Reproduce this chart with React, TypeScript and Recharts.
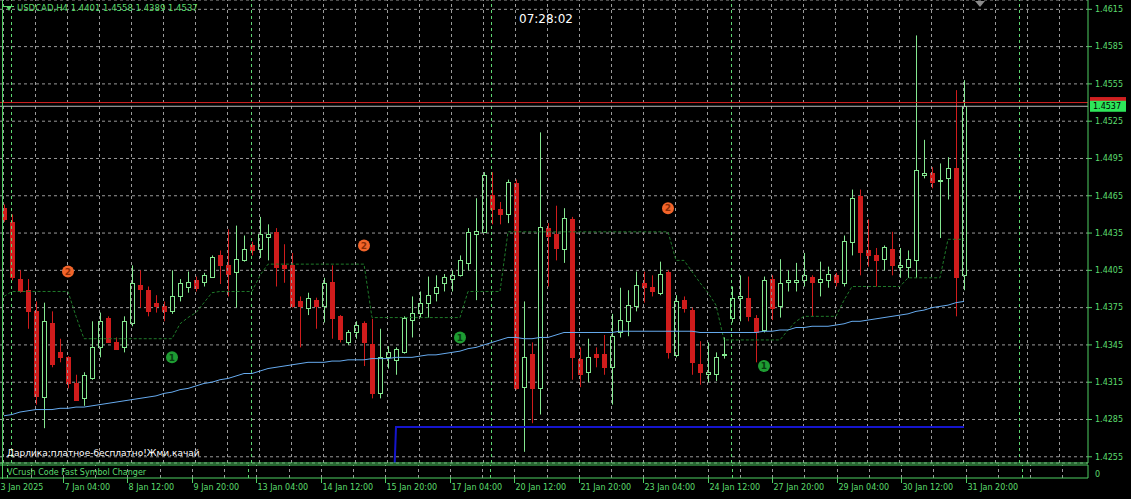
import React from "react";
import {
  ComposedChart,
  Bar,
  Line,
  XAxis,
  YAxis,
  CartesianGrid,
  ReferenceLine,
  ReferenceDot,
} from "recharts";

// USDCAD H4, bars from 3 Jan 2025 20:00 to 31 Jan 2025 20:00
const opens = [
  1.4455, 1.4444, 1.4398, 1.4389, 1.4372, 1.4303, 1.4363, 1.4339, 1.4335, 1.4314,
  1.4302, 1.4318, 1.4343, 1.4367, 1.4347, 1.4343, 1.4363, 1.4393, 1.4389, 1.4379,
  1.4376, 1.4372, 1.4384, 1.4392, 1.4397, 1.4396, 1.44, 1.4417, 1.4409, 1.4404,
  1.4413, 1.4425, 1.4422, 1.4432, 1.4436, 1.4409, 1.4409, 1.438, 1.4375, 1.4381,
  1.4376, 1.4396, 1.4368, 1.4347, 1.4355, 1.4363, 1.4346, 1.4306, 1.4335, 1.4333,
  1.4339, 1.4365, 1.4371, 1.4379, 1.4387, 1.4395, 1.4398, 1.4401, 1.4411, 1.4434,
  1.4436, 1.4466, 1.4454, 1.445, 1.4475, 1.4311, 1.4338, 1.431, 1.4439, 1.4434,
  1.4422, 1.4446, 1.4334, 1.4323, 1.4338, 1.4338, 1.4327, 1.4355, 1.4364, 1.4376,
  1.4395, 1.4392, 1.4387, 1.4404, 1.4337, 1.4381, 1.4373, 1.433, 1.4322, 1.4322,
  1.4337, 1.4367, 1.4383, 1.4383, 1.4367, 1.4357, 1.4398, 1.4376, 1.4396, 1.4396,
  1.4397, 1.44, 1.4396, 1.4397, 1.4401, 1.4395, 1.4428, 1.4465, 1.4421, 1.4417,
  1.4414, 1.4422, 1.4408, 1.4408, 1.4413, 1.4482, 1.4483, 1.4477, 1.4479, 1.4487,
  1.4401,
];
const highs = [
  1.4458, 1.445, 1.4405, 1.4398, 1.438, 1.4379, 1.4372, 1.435, 1.4336, 1.4321,
  1.4323, 1.4364, 1.4371, 1.4368, 1.4351, 1.4368, 1.4409, 1.4405, 1.4392, 1.4385,
  1.438, 1.4405, 1.4398, 1.4404, 1.44, 1.4403, 1.4417, 1.4421, 1.4438, 1.4441,
  1.4433, 1.4428, 1.4448, 1.4442, 1.4439, 1.4426, 1.4419, 1.4384, 1.4387, 1.4383,
  1.4399, 1.4409, 1.4369, 1.4357, 1.4364, 1.4364, 1.4366, 1.4358, 1.4344, 1.4343,
  1.4368, 1.4384, 1.4388, 1.44, 1.4401, 1.4402, 1.4405, 1.4417, 1.4439, 1.4463,
  1.4484, 1.4484, 1.446, 1.4478, 1.4478, 1.438, 1.4347, 1.4516, 1.4443, 1.4457,
  1.4455, 1.4448, 1.4343, 1.435, 1.4343, 1.4353, 1.437, 1.4391, 1.4389, 1.4404,
  1.4404, 1.4401, 1.4412, 1.4405, 1.4385, 1.4384, 1.4375, 1.4348, 1.4347, 1.4339,
  1.4351, 1.4392, 1.4401, 1.44, 1.4369, 1.44, 1.4401, 1.4414, 1.4405, 1.4411,
  1.4419, 1.4401, 1.4412, 1.4408, 1.4403, 1.4433, 1.447, 1.447, 1.4446, 1.4423,
  1.4425, 1.4436, 1.4423, 1.4421, 1.4594, 1.451, 1.4488, 1.4491, 1.4496, 1.455,
  1.4558,
];
const lows = [
  1.4444, 1.4397, 1.4387, 1.4358, 1.4297, 1.4278, 1.4327, 1.4331, 1.431, 1.43,
  1.4296, 1.4317, 1.4335, 1.4347, 1.4341, 1.4339, 1.436, 1.4375, 1.4368, 1.4371,
  1.4364, 1.437, 1.438, 1.4387, 1.4388, 1.4392, 1.4399, 1.4394, 1.4384, 1.4375,
  1.4412, 1.4417, 1.4415, 1.4413, 1.4392, 1.4395, 1.4375, 1.4343, 1.4369, 1.4358,
  1.4363, 1.435, 1.4347, 1.4345, 1.435, 1.4328, 1.4302, 1.4302, 1.4326, 1.4321,
  1.4338, 1.4351, 1.4367, 1.4367, 1.438, 1.4388, 1.4388, 1.44, 1.4405, 1.4381,
  1.4435, 1.4442, 1.4442, 1.4443, 1.4309, 1.4259, 1.4282, 1.4289, 1.4392, 1.4413,
  1.4411, 1.4317, 1.4311, 1.4315, 1.4327, 1.4321, 1.4297, 1.4351, 1.4352, 1.4372,
  1.4379, 1.4384, 1.4385, 1.4334, 1.4335, 1.4371, 1.4321, 1.4313, 1.4315, 1.4316,
  1.4334, 1.4363, 1.4364, 1.4364, 1.4331, 1.4355, 1.4365, 1.4367, 1.4388, 1.4388,
  1.4392, 1.4368, 1.4384, 1.4391, 1.4392, 1.4392, 1.4417, 1.4401, 1.4408, 1.4392,
  1.4405, 1.4401, 1.4399, 1.4399, 1.4399, 1.4479, 1.4471, 1.4431, 1.4462, 1.4368,
  1.4389,
];
const closes = [
  1.4446, 1.44, 1.4388, 1.4372, 1.4304, 1.4364, 1.433, 1.4335, 1.4314, 1.4301,
  1.4321, 1.4343, 1.4364, 1.4347, 1.4342, 1.4364, 1.4395, 1.439, 1.4372, 1.4376,
  1.4372, 1.4384, 1.4395, 1.4396, 1.4391, 1.4401, 1.4416, 1.4409, 1.4402, 1.4414,
  1.4422, 1.4421, 1.4434, 1.4434, 1.4408, 1.4407, 1.4376, 1.4376, 1.4383, 1.4376,
  1.4395, 1.4367, 1.435, 1.4355, 1.4361, 1.4347, 1.4306, 1.4335, 1.4339, 1.4342,
  1.4367, 1.4371, 1.4379, 1.4385, 1.4392, 1.44, 1.4401, 1.4413, 1.4436, 1.4437,
  1.4482, 1.4454, 1.445, 1.4476, 1.431, 1.4335, 1.431, 1.444, 1.4433, 1.4423,
  1.4447, 1.4335, 1.4322, 1.4335, 1.4335, 1.4327, 1.4352, 1.4365, 1.4377, 1.4393,
  1.4392, 1.4388, 1.4402, 1.4339, 1.438, 1.4375, 1.4331, 1.4323, 1.4323, 1.4335,
  1.4338, 1.4383, 1.4384, 1.4368, 1.4355, 1.4397, 1.4375, 1.4395, 1.4397, 1.4397,
  1.4401, 1.4396, 1.4398, 1.4402, 1.4396, 1.4429, 1.4463, 1.442, 1.4417, 1.4413,
  1.4424, 1.4409, 1.4409, 1.4414, 1.4486, 1.4483, 1.4476, 1.4478, 1.4487, 1.44,
  1.4537,
];

// light blue moving average
const maValues = [
  1.4288, 1.4289, 1.4291, 1.4292, 1.4293, 1.4293, 1.4293, 1.4294, 1.4294, 1.4295,
  1.4295, 1.4296, 1.4297, 1.4298, 1.4299, 1.43, 1.4301, 1.4302, 1.4303, 1.4304,
  1.4306, 1.4307, 1.4309, 1.431, 1.4312, 1.4314, 1.4315, 1.4317, 1.4318, 1.432,
  1.4322, 1.4322, 1.4324, 1.4326, 1.4327, 1.4328, 1.4329, 1.433, 1.4331, 1.4331,
  1.4331, 1.4332, 1.4332, 1.4333, 1.4333, 1.4333, 1.4334, 1.4334, 1.4334, 1.4335,
  1.4335, 1.4335, 1.4336, 1.4337, 1.4337, 1.4338, 1.4339, 1.434, 1.4342, 1.4343,
  1.4345, 1.4347, 1.4349, 1.4351, 1.4351, 1.435, 1.435, 1.4351, 1.4351, 1.4353,
  1.4355, 1.4355, 1.4355, 1.4355, 1.4355, 1.4355, 1.4355, 1.4356, 1.4356, 1.4356,
  1.4356, 1.4356, 1.4356, 1.4356, 1.4356, 1.4356, 1.4356, 1.4355, 1.4355, 1.4355,
  1.4355, 1.4355, 1.4355, 1.4355, 1.4355, 1.4356, 1.4356, 1.4357, 1.4357, 1.4359,
  1.4359, 1.436, 1.436, 1.436, 1.4361, 1.4362, 1.4364, 1.4364, 1.4365, 1.4366,
  1.4367, 1.4368, 1.4369, 1.437, 1.4372, 1.4373, 1.4375, 1.4376, 1.4377, 1.4379,
  1.438,
];

// dark green dotted step line
const levelValues = [
  1.4384, 1.4388, 1.4388, 1.4388, 1.4388, 1.4388, 1.4388, 1.4388, 1.4388, 1.4368,
  1.435, 1.435, 1.435, 1.435, 1.435, 1.435, 1.435, 1.435, 1.435, 1.435,
  1.435, 1.435, 1.4362, 1.4367, 1.4371, 1.4379, 1.4387, 1.4388, 1.4388, 1.4388,
  1.4388, 1.4388, 1.4401, 1.441, 1.441, 1.441, 1.441, 1.441, 1.441, 1.441,
  1.441, 1.441, 1.441, 1.441, 1.441, 1.441, 1.4367, 1.4367, 1.4367, 1.4367,
  1.4367, 1.4367, 1.4367, 1.4367, 1.4367, 1.4367, 1.4367, 1.4367, 1.4388, 1.4388,
  1.4388, 1.4388, 1.4388, 1.4436, 1.4436, 1.4436, 1.4436, 1.4436, 1.4436, 1.4436,
  1.4436, 1.4436, 1.4436, 1.4436, 1.4436, 1.4436, 1.4436, 1.4436, 1.4436, 1.4436,
  1.4436, 1.4436, 1.4436, 1.4436, 1.4413, 1.4413, 1.4404, 1.4395, 1.4387, 1.4377,
  1.4349, 1.4349, 1.4349, 1.4349, 1.4349, 1.4349, 1.4349, 1.4349, 1.4357, 1.4364,
  1.4368, 1.4368, 1.4368, 1.4368, 1.4368, 1.4381, 1.4392, 1.4392, 1.4392, 1.4392,
  1.4392, 1.4392, 1.4392, 1.4399, 1.4399, 1.4399, 1.4399, 1.4399, 1.443, 1.443,
  1.443,
];

// dark blue indicator, below the window before bar 49
const blueValues = [
  null, null, null, null, null, null, null, null, null, null,
  null, null, null, null, null, null, null, null, null, null,
  null, null, null, null, null, null, null, null, null, null,
  null, null, null, null, null, null, null, null, null, null,
  null, null, null, null, null, null, null, null, 1.41, 1.4279,
  1.4279, 1.4279, 1.4279, 1.4279, 1.4279, 1.4279, 1.4279, 1.4279, 1.4279, 1.4279,
  1.4279, 1.4279, 1.4279, 1.4279, 1.4279, 1.4279, 1.4279, 1.4279, 1.4279, 1.4279,
  1.4279, 1.4279, 1.4279, 1.4279, 1.4279, 1.4279, 1.4279, 1.4279, 1.4279, 1.4279,
  1.4279, 1.4279, 1.4279, 1.4279, 1.4279, 1.4279, 1.4279, 1.4279, 1.4279, 1.4279,
  1.4279, 1.4279, 1.4279, 1.4279, 1.4279, 1.4279, 1.4279, 1.4279, 1.4279, 1.4279,
  1.4279, 1.4279, 1.4279, 1.4279, 1.4279, 1.4279, 1.4279, 1.4279, 1.4279, 1.4279,
  1.4279, 1.4279, 1.4279, 1.4279, 1.4279, 1.4279, 1.4279, 1.4279, 1.4279, 1.4279,
  1.4279,
];

const signalOne = [
  { bar: 21, price: 1.4335 },
  { bar: 57, price: 1.4351 },
  { bar: 95, price: 1.4328 },
];
const signalTwo = [
  { bar: 8, price: 1.4404 },
  { bar: 45, price: 1.4425 },
  { bar: 83, price: 1.4455 },
];

const priceTicks = [
  1.4255, 1.4285, 1.4315, 1.4345, 1.4375, 1.4405, 1.4435, 1.4465, 1.4495, 1.4525,
  1.4555, 1.4585, 1.4615,
];
const timeTickBars = [0, 8, 16, 24, 32, 40, 48, 56, 64, 72, 80, 88, 96, 104, 112, 120];
const timeTickLabels = [
  "3 Jan 2025", "7 Jan 04:00", "8 Jan 12:00", "9 Jan 20:00", "13 Jan 04:00",
  "14 Jan 12:00", "15 Jan 20:00", "17 Jan 04:00", "20 Jan 12:00", "21 Jan 20:00",
  "23 Jan 04:00", "24 Jan 12:00", "27 Jan 20:00", "29 Jan 04:00", "30 Jan 12:00",
  "31 Jan 20:00",
];
const gridBars = [
  0, 4, 8, 12, 16, 20, 24, 28, 32, 36, 40, 44, 48, 52, 56, 60, 64, 68, 72, 76,
  80, 84, 88, 92, 96, 100, 104, 108, 112, 116, 120, 124, 128, 132,
];
const separatorBars = [1, 31, 61, 91, 127];
const askPrice = 1.454;
const bidPrice = 1.4537;
const emptyBarsRight = 15;

const BULL = "#84e890";
const BEAR = "#d01c1c";
const TEXT = "#5cdc6e";
const FRAME = "#4fcf62";
const GRID = "#9a9a9a";
const SEP = "#5fd873";
const FONT = "DejaVu Sans";

const rows = Array.from({ length: opens.length + emptyBarsRight }, (_, i) => ({
  i,
  open: opens[i],
  high: highs[i],
  low: lows[i],
  close: closes[i],
  ma: maValues[i] ?? null,
  level: levelValues[i] ?? null,
  blue: blueValues[i] ?? null,
}));

const last = opens.length - 1;
const fmt = (v: number) => v.toFixed(4);

function Candle(props: any) {
  const { x, y, width, height, payload } = props;
  if (!payload || payload.open == null || !Number.isFinite(y)) return <g />;
  const { open, high, low, close } = payload;
  const k = high > low ? height / (high - low) : 0;
  const yOpen = y + (high - open) * k;
  const yClose = y + (high - close) * k;
  const up = close >= open;
  const col = up ? BULL : BEAR;
  const px = Math.floor(x + width / 2 - 0.25);
  const top = Math.round(Math.min(yOpen, yClose));
  const bot = Math.round(Math.max(yOpen, yClose));
  return (
    <g>
      <line x1={px + 0.5} x2={px + 0.5} y1={y} y2={y + height} stroke={col} />
      {bot - top < 1 ? (
        <line x1={px - 2} x2={px + 3} y1={top + 0.5} y2={top + 0.5} stroke={col} />
      ) : up ? (
        <rect x={px - 1.5} y={top + 0.5} width={4} height={bot - top} fill="#000" stroke={col} />
      ) : (
        <rect x={px - 2} y={top} width={5} height={bot - top + 1} fill={col} />
      )}
    </g>
  );
}

// vertical reference line snapped to the candle's pixel column
function CrispV(props: any) {
  const { x1, y1, y2, stroke, strokeDasharray } = props;
  if (!Number.isFinite(x1)) return <g />;
  const x = Math.floor(x1) - 0.5;
  return (
    <line x1={x} x2={x} y1={y1} y2={y2} stroke={stroke} strokeDasharray={strokeDasharray} />
  );
}

function SignalMark(props: any) {
  const { cx, cy, fill, ink, digit } = props;
  if (cx == null || cy == null) return <g />;
  return (
    <g>
      <circle cx={cx} cy={cy} r={6} fill={fill} />
      <text
        x={cx}
        y={cy}
        dy="0.36em"
        textAnchor="middle"
        fontSize={9}
        fontWeight="bold"
        fill={ink}
        fontFamily={FONT}
      >
        {digit}
      </text>
    </g>
  );
}

function PriceTag(props: any) {
  const { viewBox, bg, fg, text } = props;
  if (!viewBox) return <g />;
  const x = viewBox.x + viewBox.width + 2;
  const y = viewBox.y;
  return (
    <g>
      <rect x={x} y={y - 5.5} width={36} height={11} fill={bg} />
      {text ? (
        <text x={x + 3} y={y} dy="0.36em" fontSize={8} fill={fg} fontFamily={FONT}>
          {text}
        </text>
      ) : null}
    </g>
  );
}

function TimeTick(props: any) {
  const { x, y, payload } = props;
  const idx = timeTickBars.indexOf(payload.value);
  if (idx < 0) return <g />;
  const tx = Math.floor(x) - 0.5;
  return (
    <g>
      <line x1={tx} x2={tx} y1={y - 6} y2={y - 1} stroke={FRAME} />
      <text x={tx + 1} y={y} dy="0.8em" fontSize={8} fill={TEXT} fontFamily={FONT}>
        {timeTickLabels[idx]}
      </text>
    </g>
  );
}

function verticals() {
  return [
    ...gridBars.map((b) => (
      <ReferenceLine
        key={"g" + b}
        x={b}
        stroke={GRID}
        strokeDasharray="3 3"
        shape={(p: any) => <CrispV {...p} />}
      />
    )),
    ...separatorBars.map((b) => (
      <ReferenceLine
        key={"s" + b}
        x={b}
        stroke={SEP}
        strokeDasharray="3 3"
        shape={(p: any) => <CrispV {...p} />}
      />
    )),
  ];
}

export default function App() {
  return (
    <div
      style={{
        position: "absolute",
        left: 0,
        top: 0,
        width: 1131,
        height: 499,
        background: "#000",
        overflow: "hidden",
        fontFamily: FONT,
      }}
    >
      <div style={{ position: "absolute", left: 0, top: 0 }}>
        <ComposedChart
          width={1131}
          height={464}
          data={rows}
          margin={{ top: 0, right: 0, bottom: 0, left: 0 }}
        >
          <CartesianGrid stroke={GRID} strokeDasharray="3 3" vertical={false} />
          {verticals()}
          <XAxis
            dataKey="i"
            type="category"
            ticks={gridBars}
            interval={0}
            height={1}
            tick={false}
            tickLine={false}
            axisLine={{ stroke: FRAME }}
          />
          <YAxis
            orientation="right"
            width={43}
            domain={[1.425, 1.46225]}
            allowDataOverflow
            ticks={priceTicks}
            interval={0}
            tickSize={4}
            tickMargin={3}
            axisLine={{ stroke: FRAME }}
            tickLine={{ stroke: FRAME }}
            tick={{ fill: TEXT, fontSize: 8, fontFamily: FONT }}
            tickFormatter={(v: number) => v.toFixed(4)}
          />
          <Bar
            dataKey={(d: any) => (d.open == null ? null : [d.low, d.high])}
            barSize={5}
            shape={(p: any) => <Candle {...p} />}
            isAnimationActive={false}
          />
          <Line
            dataKey="level"
            stroke="#1f7a2a"
            strokeDasharray="3 2"
            dot={false}
            activeDot={false}
            isAnimationActive={false}
          />
          <Line
            dataKey="ma"
            stroke="#66aaee"
            dot={false}
            activeDot={false}
            isAnimationActive={false}
          />
          <Line
            dataKey="blue"
            stroke="#1515cc"
            strokeWidth={2}
            dot={false}
            activeDot={false}
            isAnimationActive={false}
          />
          <ReferenceLine
            y={askPrice}
            stroke="#d02020"
            label={<PriceTag bg="#d02020" fg="#000" text="" />}
          />
          <ReferenceLine
            y={bidPrice}
            stroke="#b8b8b8"
            label={<PriceTag bg="#2ee65a" fg="#000" text={fmt(bidPrice)} />}
          />
          {signalTwo.map((s) => (
            <ReferenceDot
              key={"two" + s.bar}
              x={s.bar}
              y={s.price}
              r={6}
              shape={(p: any) => <SignalMark {...p} fill="#f2642a" ink="#8a2c06" digit="2" />}
            />
          ))}
          {signalOne.map((s) => (
            <ReferenceDot
              key={"one" + s.bar}
              x={s.bar}
              y={s.price}
              r={6}
              shape={(p: any) => <SignalMark {...p} fill="#1e9c32" ink="#073d10" digit="1" />}
            />
          ))}
        </ComposedChart>
      </div>

      <div style={{ position: "absolute", left: 0, top: 463 }}>
        <ComposedChart
          width={1131}
          height={36}
          data={rows}
          margin={{ top: 2, right: 0, bottom: 0, left: 0 }}
        >
          {verticals()}
          <XAxis
            dataKey="i"
            type="category"
            ticks={gridBars}
            interval={0}
            height={21}
            tickSize={4}
            tickMargin={2}
            tickLine={false}
            axisLine={{ stroke: FRAME }}
            tick={<TimeTick />}
          />
          <YAxis
            orientation="right"
            width={43}
            domain={[-0.45, 1]}
            allowDataOverflow
            ticks={[0]}
            interval={0}
            tickSize={4}
            tickMargin={3}
            axisLine={{ stroke: FRAME }}
            tickLine={false}
            tick={{ fill: TEXT, fontSize: 8, fontFamily: FONT }}
          />
          <Line
            dataKey="sub"
            stroke="none"
            dot={false}
            activeDot={false}
            isAnimationActive={false}
          />
          <ReferenceLine y={1} stroke={FRAME} />
        </ComposedChart>
      </div>

      {/* window frame on the left */}
      <div
        style={{
          position: "absolute",
          left: 2,
          top: 0,
          width: 1,
          height: 479,
          background: FRAME,
        }}
      />

      {/* header */}
      <svg style={{ position: "absolute", left: 3, top: 5 }} width={12} height={8}>
        <line x1={0} x2={11} y1={1.5} y2={1.5} stroke={TEXT} />
        <polygon points="3,1 9,1 6,6" fill={TEXT} />
      </svg>
      <div
        style={{
          position: "absolute",
          left: 17,
          top: 3,
          fontSize: 8.5,
          color: TEXT,
          whiteSpace: "nowrap",
        }}
      >
        {`USDCAD,H4 ${fmt(opens[last])} ${fmt(highs[last])} ${fmt(lows[last])} ${fmt(closes[last])}`}
      </div>
      <div
        style={{
          position: "absolute",
          left: 519,
          top: 12,
          fontSize: 12,
          color: "#fff",
          whiteSpace: "nowrap",
        }}
      >
        07:28:02
      </div>
      <svg style={{ position: "absolute", left: 974, top: 0 }} width={12} height={8}>
        <polygon points="1,1 11,1 6,7" fill="#8a8a8a" />
      </svg>

      <div
        style={{
          position: "absolute",
          left: 7,
          top: 448,
          fontSize: 9,
          color: "#fff",
          whiteSpace: "nowrap",
        }}
      >
        Дарлика:платное-бесплатно!Жми.качай
      </div>
      <div
        style={{
          position: "absolute",
          left: 7,
          top: 468,
          fontSize: 8,
          color: TEXT,
          whiteSpace: "nowrap",
        }}
      >
        VCrush Code Fast Symbol Changer
      </div>
    </div>
  );
}
